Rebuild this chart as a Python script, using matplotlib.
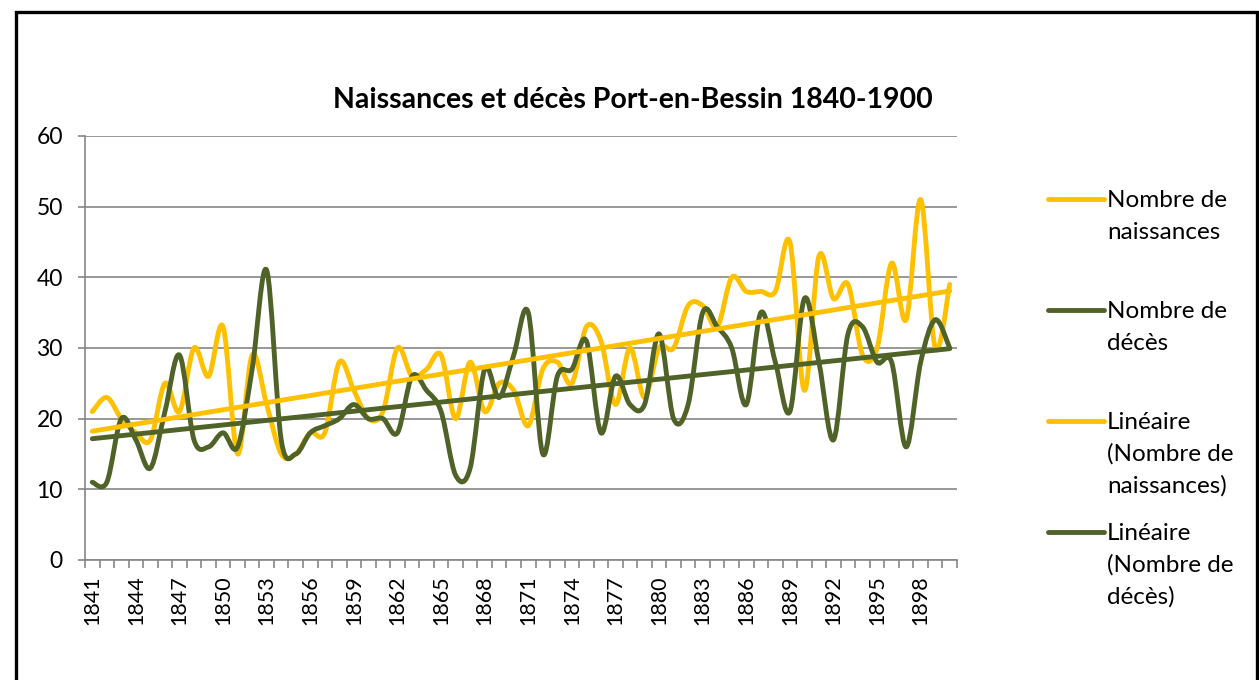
import numpy as np
import matplotlib
matplotlib.use("Agg")
import matplotlib.pyplot as plt
from matplotlib.path import Path
from matplotlib.patches import PathPatch, Rectangle
from matplotlib.lines import Line2D

years = list(range(1841, 1901))
naissances = [21, 23, 20, 18, 17, 25, 21, 30, 26, 33,
              15, 29, 22, 15, 15, 18, 18, 28, 24, 20,
              21, 30, 26, 27, 29, 20, 28, 21, 25, 24,
              19, 27, 28, 25, 33, 31, 22, 30, 23, 30,
              30, 36, 36, 33, 40, 38, 38, 38, 45, 24,
              43, 37, 39, 29, 30, 42, 34, 51, 30, 39]
deces = [11, 11, 20, 17, 13, 21, 29, 17, 16, 18,
         16, 27, 41, 17, 15, 18, 19, 20, 22, 20,
         20, 18, 26, 24, 21, 12, 13, 27, 23, 29,
         35, 15, 26, 27, 31, 18, 26, 22, 22, 32,
         20, 22, 35, 33, 30, 22, 35, 28, 21, 37,
         28, 17, 32, 33, 28, 28, 16, 28, 34, 30]
title = "Naissances et décès Port-en-Bessin 1840-1900"
legend_labels = ["Nombre de\nnaissances", "Nombre de\ndécès",
                 "Linéaire\n(Nombre de\nnaissances)", "Linéaire\n(Nombre de\ndécès)"]
yticks = [0, 10, 20, 30, 40, 50, 60]

C_YEL = "#FFC000"
C_GRN = "#4F6228"
FONT = "Lato"
plt.rcParams['font.family'] = [FONT, 'DejaVu Sans']

W, H = 1259, 680
fig = plt.figure(figsize=(W / 100, H / 100), dpi=100)
fig.patch.set_facecolor("white")

# outer frame
fig.patches.append(Rectangle((16 / W, -0.1), (1257 - 16) / W, 1.1 - 12 / H,
                             transform=fig.transFigure, fill=False, edgecolor="black",
                             linewidth=2.4, zorder=0))

L, R, T, B = 85, 957, 136, 560
ax = fig.add_axes([L / W, 1 - B / H, (R - L) / W, (B - T) / H])

n = len(years)
xs = np.arange(n)


def smooth_path(x, y):
    pts = np.column_stack([x, y]).astype(float)
    ext = np.vstack([pts[0], pts, pts[-1]])
    verts = [pts[0]]
    codes = [Path.MOVETO]
    for i in range(len(pts) - 1):
        p0, p1, p2, p3 = ext[i], ext[i + 1], ext[i + 2], ext[i + 3]
        c1 = p1 + (p2 - p0) / 6.0
        c2 = p2 - (p3 - p1) / 6.0
        verts += [c1, c2, p2]
        codes += [Path.CURVE4] * 3
    return Path(verts, codes)


lw = 3.5
ax.add_patch(PathPatch(smooth_path(xs, naissances), fill=False, edgecolor=C_YEL,
                       linewidth=lw, capstyle="round", joinstyle="round", zorder=3))
ax.add_patch(PathPatch(smooth_path(xs, deces), fill=False, edgecolor=C_GRN,
                       linewidth=lw, capstyle="round", joinstyle="round", zorder=4))

for vals, col, z in [(naissances, C_YEL, 5), (deces, C_GRN, 6)]:
    a, b = np.polyfit(xs, vals, 1)
    ax.plot([xs[0], xs[-1]], [a * xs[0] + b, a * xs[-1] + b], color=col,
            linewidth=lw, solid_capstyle="round", zorder=z)

ax.set_xlim(-0.5, n - 0.5)
ax.set_ylim(0, 60)
ax.set_yticks(yticks)
ax.set_yticklabels([str(v) for v in yticks])
ax.grid(axis="y", color="#868686", linewidth=1.2)
ax.set_axisbelow(True)

ax.set_xticks(np.arange(-0.5, n, 1.0))
ax.set_xticklabels([])
ax.set_xticks(xs[::3], minor=True)
ax.set_xticklabels([str(y) for y in years[::3]], minor=True, rotation=90)
ax.tick_params(axis="x", which="major", length=6, width=1.2, color="#868686", direction="out")
ax.tick_params(axis="x", which="minor", length=0, pad=11, labelsize=15.5)
ax.tick_params(axis="y", length=5, width=1.2, color="#868686", pad=11, labelsize=16.5)

for s in ["top", "right"]:
    ax.spines[s].set_visible(False)
for s in ["left", "bottom"]:
    ax.spines[s].set_color("#868686")
    ax.spines[s].set_linewidth(1.2)

fig.text(633 / W, 1 - 100 / H, title, ha="center", va="center",
         fontsize=20.5, fontweight="bold")

# legend
leg_cols = [C_YEL, C_GRN, C_YEL, C_GRN]
leg_y = [199, 310, 421, 532]
for lab, col, yy in zip(legend_labels, leg_cols, leg_y):
    fig.add_artist(Line2D([1048 / W, 1104 / W], [1 - yy / H, 1 - yy / H],
                          transform=fig.transFigure, color=col, linewidth=3.5,
                          solid_capstyle="round"))
    for k, line in enumerate(lab.split("\n")):
        fig.text(1107 / W, 1 - (yy + 8 + 32 * k) / H, line, ha="left",
                 va="baseline", fontsize=17.5)

fig.savefig("out.png", dpi=100, facecolor="white")
